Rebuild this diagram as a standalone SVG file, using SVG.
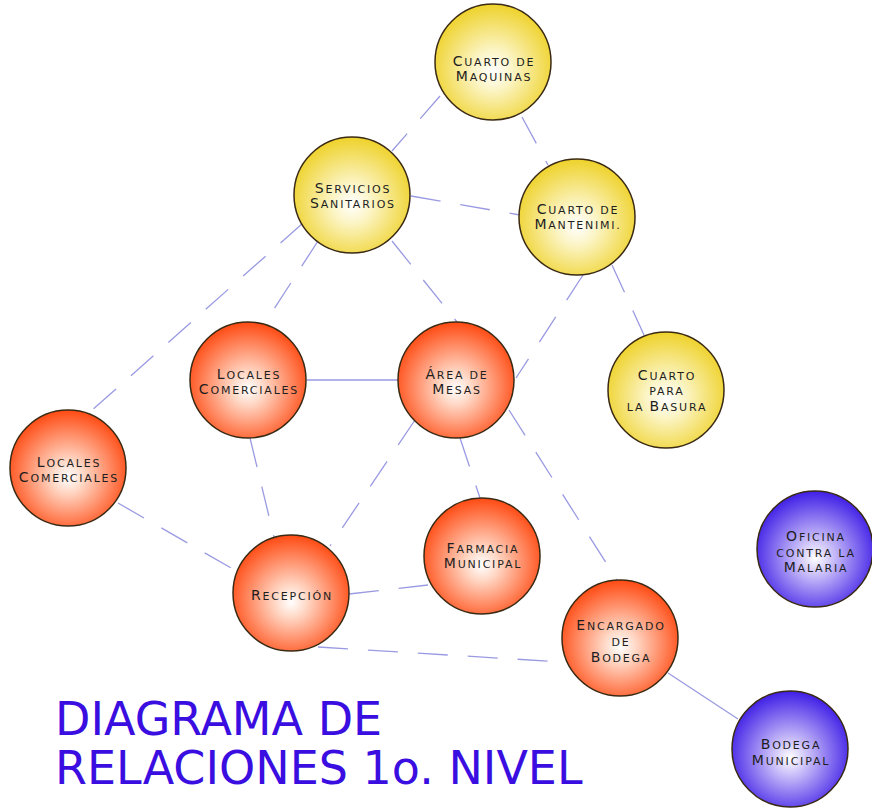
<svg xmlns="http://www.w3.org/2000/svg" width="872" height="808" viewBox="0 0 872 808">
<defs>
<radialGradient id="gY" cx="50%" cy="55%" r="55%" fx="50%" fy="58%">
<stop offset="0" stop-color="#ffffff"/><stop offset="0.3" stop-color="#fcf5c8"/><stop offset="1" stop-color="#eed22a"/>
</radialGradient>
<radialGradient id="gO" cx="50%" cy="55%" r="55%" fx="50%" fy="58%">
<stop offset="0" stop-color="#ffffff"/><stop offset="0.25" stop-color="#ffd8c6"/><stop offset="1" stop-color="#ff4a12"/>
</radialGradient>
<radialGradient id="gB" cx="50%" cy="55%" r="55%" fx="50%" fy="58%">
<stop offset="0" stop-color="#ffffff"/><stop offset="0.25" stop-color="#d0c6fa"/><stop offset="1" stop-color="#3f1ee6"/>
</radialGradient>
</defs>
<style>
.c{stroke:#3a2a14;stroke-width:1.5}
.y{fill:url(#gY)}.o{fill:url(#gO)}.b{fill:url(#gB)}
.t{font-family:"DejaVu Sans",sans-serif;font-size:11px;letter-spacing:1.8px;fill:#1e1e1e;text-anchor:middle}
.k{font-size:14px}
.e{stroke:#9a9ae2;stroke-width:1.3;fill:none}
.d{stroke-dasharray:30 20}
.title{font-family:"DejaVu Sans",Verdana,sans-serif;font-size:46px;fill:#3a0ee0}
</style>
<rect width="872" height="808" fill="#ffffff"/>
<g id="connectors">
<line class="e d" x1="440" y1="96" x2="392" y2="151"/>
<line class="e d" x1="522" y1="117" x2="548" y2="165"/>
<line class="e d" x1="411" y1="196" x2="520" y2="215"/>
<line class="e d" x1="303" y1="223" x2="90" y2="412"/>
<line class="e d" x1="318" y1="241" x2="265" y2="323"/>
<line class="e d" x1="392" y1="241" x2="457" y2="322"/>
<line class="e d" x1="583" y1="275" x2="516" y2="378"/>
<line class="e d" x1="612" y1="265" x2="644" y2="335"/>
<line class="e" x1="307" y1="380" x2="398" y2="380"/>
<line class="e d" x1="250" y1="438" x2="274" y2="537"/>
<line class="e d" x1="415" y1="420" x2="330" y2="546"/>
<line class="e d" x1="460" y1="438" x2="480" y2="498"/>
<line class="e d" x1="509" y1="410" x2="617" y2="580"/>
<line class="e d" x1="118" y1="503" x2="238" y2="572"/>
<line class="e d" x1="349" y1="594" x2="428" y2="585"/>
<line class="e d" x1="318" y1="647" x2="562" y2="662"/>
<line class="e" x1="668" y1="673" x2="738" y2="719"/>
</g>
<g id="cuarto-maquinas"><circle class="c y" cx="493" cy="62" r="58"/><text class="t" x="494" y="66"><tspan class="k">C</tspan>UARTO DE</text><text class="t" x="494" y="81"><tspan class="k">M</tspan>AQUINAS</text></g>
<g id="servicios-sanitarios"><circle class="c y" cx="352" cy="195" r="58"/><text class="t" x="353" y="193"><tspan class="k">S</tspan>ERVICIOS</text><text class="t" x="353" y="208"><tspan class="k">S</tspan>ANITARIOS</text></g>
<g id="cuarto-mantenimi"><circle class="c y" cx="577" cy="217" r="58"/><text class="t" x="578" y="214"><tspan class="k">C</tspan>UARTO DE</text><text class="t" x="578" y="229"><tspan class="k">M</tspan>ANTENIMI.</text></g>
<g id="cuarto-basura"><circle class="c y" cx="666" cy="390" r="58"/><text class="t" x="667" y="380"><tspan class="k">C</tspan>UARTO</text><text class="t" x="667" y="395">PARA</text><text class="t" x="667" y="411">LA <tspan class="k">B</tspan>ASURA</text></g>
<g id="locales-comerciales-1"><circle class="c o" cx="248" cy="380" r="58"/><text class="t" x="249" y="379"><tspan class="k">L</tspan>OCALES</text><text class="t" x="249" y="394"><tspan class="k">C</tspan>OMERCIALES</text></g>
<g id="area-mesas"><circle class="c o" cx="456" cy="380" r="58"/><text class="t" x="457" y="379"><tspan class="k">Á</tspan>REA DE</text><text class="t" x="457" y="394"><tspan class="k">M</tspan>ESAS</text></g>
<g id="locales-comerciales-2"><circle class="c o" cx="68" cy="468" r="58"/><text class="t" x="69" y="467"><tspan class="k">L</tspan>OCALES</text><text class="t" x="69" y="482"><tspan class="k">C</tspan>OMERCIALES</text></g>
<g id="farmacia-municipal"><circle class="c o" cx="482" cy="556" r="58"/><text class="t" x="483" y="553"><tspan class="k">F</tspan>ARMACIA</text><text class="t" x="483" y="568"><tspan class="k">M</tspan>UNICIPAL</text></g>
<g id="recepcion"><circle class="c o" cx="291" cy="593" r="58"/><text class="t" x="292" y="600"><tspan class="k">R</tspan>ECEPCIÓN</text></g>
<g id="encargado-bodega"><circle class="c o" cx="620" cy="638" r="58"/><text class="t" x="621" y="630"><tspan class="k">E</tspan>NCARGADO</text><text class="t" x="621" y="646">DE</text><text class="t" x="621" y="662"><tspan class="k">B</tspan>ODEGA</text></g>
<g id="oficina-malaria"><circle class="c b" cx="815" cy="549" r="58"/><text class="t" x="816" y="541"><tspan class="k">O</tspan>FICINA</text><text class="t" x="816" y="557">CONTRA LA</text><text class="t" x="816" y="572"><tspan class="k">M</tspan>ALARIA</text></g>
<g id="bodega-municipal"><circle class="c b" cx="790" cy="749" r="58"/><text class="t" x="791" y="749"><tspan class="k">B</tspan>ODEGA</text><text class="t" x="791" y="765"><tspan class="k">M</tspan>UNICIPAL</text></g>
<g id="title"><text class="title" x="55" y="735">DIAGRAMA DE</text><text class="title" x="55" y="784">RELACIONES 1o. NIVEL</text></g>
</svg>
